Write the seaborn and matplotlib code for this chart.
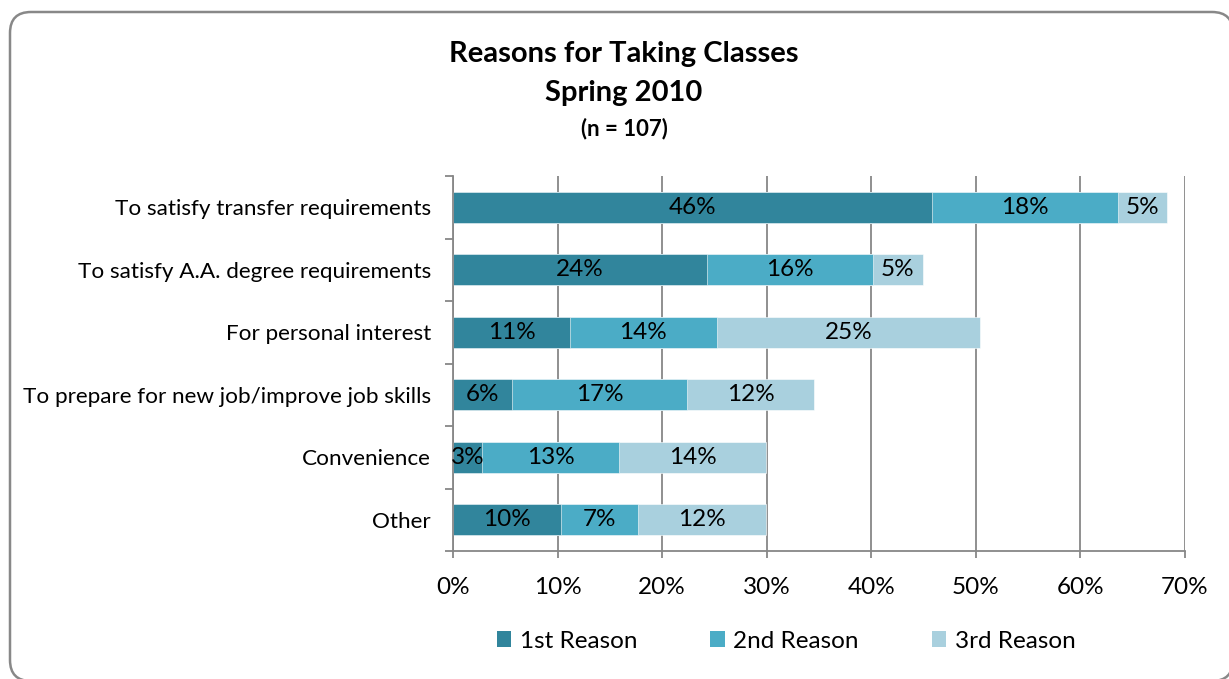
import matplotlib
matplotlib.use("Agg")
import matplotlib.pyplot as plt
import seaborn as sns
import numpy as np
import pandas as pd
from matplotlib.patches import FancyBboxPatch, Patch
from matplotlib.ticker import FixedLocator, FuncFormatter

# Survey data (percent of respondents, n = 107)
reasons = [
    "To satisfy transfer requirements",
    "To satisfy A.A. degree requirements",
    "For personal interest",
    "To prepare for new job/improve job skills",
    "Convenience",
    "Other",
]
first_reason = [45.8, 24.3, 11.2, 5.6, 2.8, 10.3]
second_reason = [17.8, 15.9, 14.0, 16.8, 13.1, 7.4]
third_reason = [4.7, 4.7, 25.2, 12.1, 14.0, 12.2]
series_names = ["1st Reason", "2nd Reason", "3rd Reason"]
x_ticks = [0, 10, 20, 30, 40, 50, 60, 70]

colors = ["#31859C", "#4BACC6", "#A9D0DE"]
grid_gray = "#878787"
FONT = ["Lato", "DejaVu Sans"]

sns.set_theme(style="white")
plt.rcParams["font.family"] = FONT
plt.rcParams["text.color"] = "black"
plt.rcParams["xtick.color"] = "black"
plt.rcParams["ytick.color"] = "black"

W, H = 1229, 679
fig = plt.figure(figsize=(W / 100, H / 100), dpi=100)

# rounded outer frame (runs past the right and bottom edges)
frame = FancyBboxPatch((0.10, -0.02), 12.23, 6.69,
                       boxstyle="round,pad=0,rounding_size=0.21",
                       transform=fig.dpi_scale_trans, facecolor="white",
                       edgecolor="#888888", linewidth=1.8, zorder=-10)
fig.patches.append(frame)

ax = fig.add_axes([453 / W, 1 - 551 / H, (1185 - 453) / W, (551 - 176) / H])
ax.set_facecolor("none")
ax.set_zorder(1)

df = pd.DataFrame({"reason": reasons,
                   series_names[0]: first_reason,
                   series_names[1]: second_reason,
                   series_names[2]: third_reason})
series = [df[s].to_numpy() for s in series_names]
cum = np.cumsum(np.vstack(series), axis=0)

# stacked bars: draw cumulative totals from the outermost layer inward
for i in range(2, -1, -1):
    sns.barplot(x=cum[i], y=df["reason"], order=reasons, orient="h",
                color=colors[i], saturation=1, width=0.5, ax=ax,
                edgecolor="white", linewidth=0.4, zorder=2)

# value labels in the middle of each segment
for i in range(3):
    starts = cum[i] - series[i]
    for j, v in enumerate(series[i]):
        ax.text(starts[j] + v / 2, j, f"{v:.0f}%", ha="center", va="center",
                fontsize=17.5, color="black", zorder=3)

ax.set_xlim(0, 70)
ax.set_ylim(len(reasons) - 0.5, -0.5)
ax.xaxis.set_major_locator(FixedLocator(x_ticks))
ax.xaxis.set_major_formatter(FuncFormatter(lambda v, p: f"{v:.0f}%"))
ax.grid(axis="x", color=grid_gray, linewidth=1.3, zorder=0)
ax.grid(axis="y", visible=False)
ax.set_axisbelow(True)

for side in ["top", "right"]:
    ax.spines[side].set_visible(False)
for side in ["left", "bottom"]:
    ax.spines[side].set_color(grid_gray)
    ax.spines[side].set_linewidth(1.3)

ax.set_xlabel("")
ax.set_ylabel("")
ax.tick_params(axis="x", which="major", direction="out", length=5, width=1.3,
               color=grid_gray, pad=14, labelsize=17.5, labelcolor="black", bottom=True)
ax.tick_params(axis="y", which="major", length=0, pad=16, labelsize=16.2,
               labelcolor="black", left=False)
ax.yaxis.set_minor_locator(FixedLocator(np.arange(-0.5, len(reasons), 1.0)))
ax.tick_params(axis="y", which="minor", direction="out", length=6, width=1.3,
               color=grid_gray, left=True)

# titles
cx = 624 / W
fig.text(cx, 1 - 54 / H, "Reasons for Taking Classes", ha="center", va="center",
         fontsize=21, fontweight="bold")
fig.text(cx, 1 - 93 / H, "Spring 2010", ha="center", va="center",
         fontsize=21, fontweight="bold")
fig.text(cx, 1 - 129 / H, "(n = 107)", ha="center", va="center",
         fontsize=16, fontweight="bold")

handles = [Patch(facecolor=c, edgecolor="none") for c in colors]
fig.legend(handles, series_names, loc="center", bbox_to_anchor=(786 / W, 1 - 641 / H),
           ncol=3, frameon=False, fontsize=17.5, handlelength=0.6, handleheight=0.6,
           handletextpad=0.35, columnspacing=3.0)

fig.savefig("out.png", dpi=100)
